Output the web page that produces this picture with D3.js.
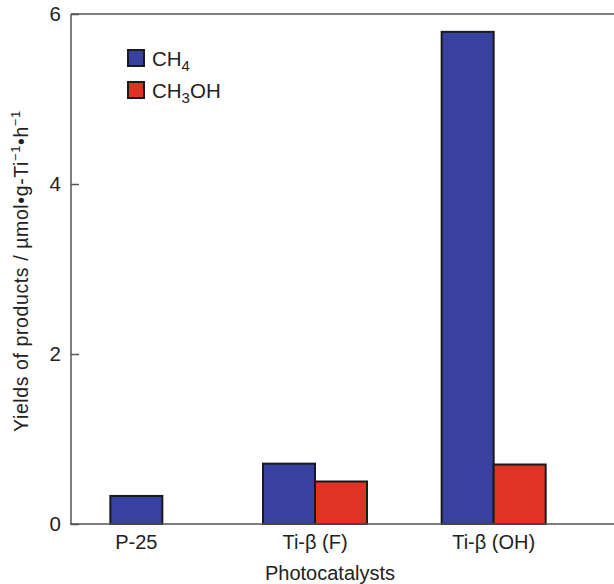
<!DOCTYPE html>
<html><head><meta charset="utf-8">
<script src="https://cdn.jsdelivr.net/npm/d3@7"></script>
<style>body{margin:0;background:#fff}svg{display:block;font-family:"Liberation Sans",Arial,sans-serif}</style>
</head><body>
<svg id="c" width="614" height="584"></svg>
<script>
const categories = ["P-25", "Ti-β (F)", "Ti-β (OH)"];
const seriesNames = ["CH4", "CH3OH"];
const ch4Values = [0.33, 0.71, 5.79];
const ch3ohValues = [null, 0.50, 0.70];
const yTicks = [0, 2, 4, 6];
const colors = ["#3841a0", "#e03326"];

const svg = d3.select("#c");
const L = 71, R = 614, T = 14, B = 524;
const y = d3.scaleLinear().domain([0, 6]).range([B, T]);
const x = d3.scaleBand().domain(categories).range([47, 583]).paddingInner(0).paddingOuter(0);
const barW = 52;

const series = [ch4Values, ch3ohValues];
const bars = [];
categories.forEach((c, i) => {
  const present = seriesNames.map((s, j) => ({s, j, v: series[j][i]})).filter(d => d.v != null);
  const sub = d3.scaleBand().domain(present.map(d => d.s)).range([0, barW * present.length]);
  const cx = x(c) + x.bandwidth() / 2;
  present.forEach(d => bars.push({x: cx - barW * present.length / 2 + sub(d.s), v: d.v, j: d.j}));
});

svg.append("g").selectAll("rect").data(bars).join("rect")
  .attr("x", d => d.x).attr("width", barW)
  .attr("y", d => y(d.v)).attr("height", d => y(0) - y(d.v))
  .attr("fill", d => colors[d.j]).attr("stroke", "#1a1a1a").attr("stroke-width", 2);

// frame lines
const ax = "#555";
svg.append("line").attr("x1", L).attr("x2", L).attr("y1", T).attr("y2", B).attr("stroke", ax).attr("stroke-width", 1.5);
svg.append("line").attr("x1", L).attr("x2", R).attr("y1", T).attr("y2", T).attr("stroke", ax).attr("stroke-width", 1.5);
svg.append("line").attr("x1", L - 1).attr("x2", R).attr("y1", B).attr("y2", B).attr("stroke", ax).attr("stroke-width", 1.5);

const FF = "Liberation Sans, Arial, sans-serif";
// y axis
const yAxis = d3.axisLeft(y).tickValues(yTicks).tickSize(-8).tickPadding(10).tickFormat(d3.format("d"));
const gy = svg.append("g").attr("transform", `translate(${L},0)`).call(yAxis);
gy.select(".domain").remove();
gy.selectAll(".tick line").attr("stroke", ax).attr("stroke-width", 1.5);
gy.selectAll(".tick text").attr("font-size", 20.5).attr("fill", "#222").attr("font-family", FF);

// x axis labels
const xAxis = d3.axisBottom(x).tickSize(0).tickPadding(11);
const gx = svg.append("g").attr("transform", `translate(0,${B})`).call(xAxis);
gx.select(".domain").remove();
gx.selectAll(".tick text").attr("font-size", 20).attr("fill", "#222").attr("font-family", FF);

// titles
svg.append("text").attr("x", 330).attr("y", 580).attr("text-anchor", "middle")
  .attr("font-size", 20).attr("fill", "#222").text("Photocatalysts");

const yt = svg.append("text").attr("transform", "translate(28,271) rotate(-90)")
  .attr("text-anchor", "middle").attr("font-size", 19.5).attr("letter-spacing", 0.6).attr("fill", "#222");
yt.append("tspan").text("Yields of products / µmol•g-Ti");
yt.append("tspan").attr("font-size", 13).attr("dy", -8).text("−1");
yt.append("tspan").attr("dy", 8).text("•h");
yt.append("tspan").attr("font-size", 13).attr("dy", -8).text("−1");

// legend
const lg = svg.append("g");
const legendItems = [
  {name: "CH", sub: "4", after: "", j: 0},
  {name: "CH", sub: "3", after: "OH", j: 1}
];
legendItems.forEach((d, i) => {
  const yy = 50 + i * 32;
  lg.append("rect").attr("x", 128).attr("y", yy).attr("width", 16).attr("height", 16)
    .attr("fill", colors[d.j]).attr("stroke", "#1a1a1a").attr("stroke-width", 2);
  const t = lg.append("text").attr("x", 152).attr("y", yy + 16).attr("font-size", 20.5).attr("fill", "#222");
  t.append("tspan").text(d.name);
  t.append("tspan").attr("font-size", 15).attr("dy", 5).text(d.sub);
  if (d.after) t.append("tspan").attr("dy", -5).text(d.after);
});
</script>
</body></html>
